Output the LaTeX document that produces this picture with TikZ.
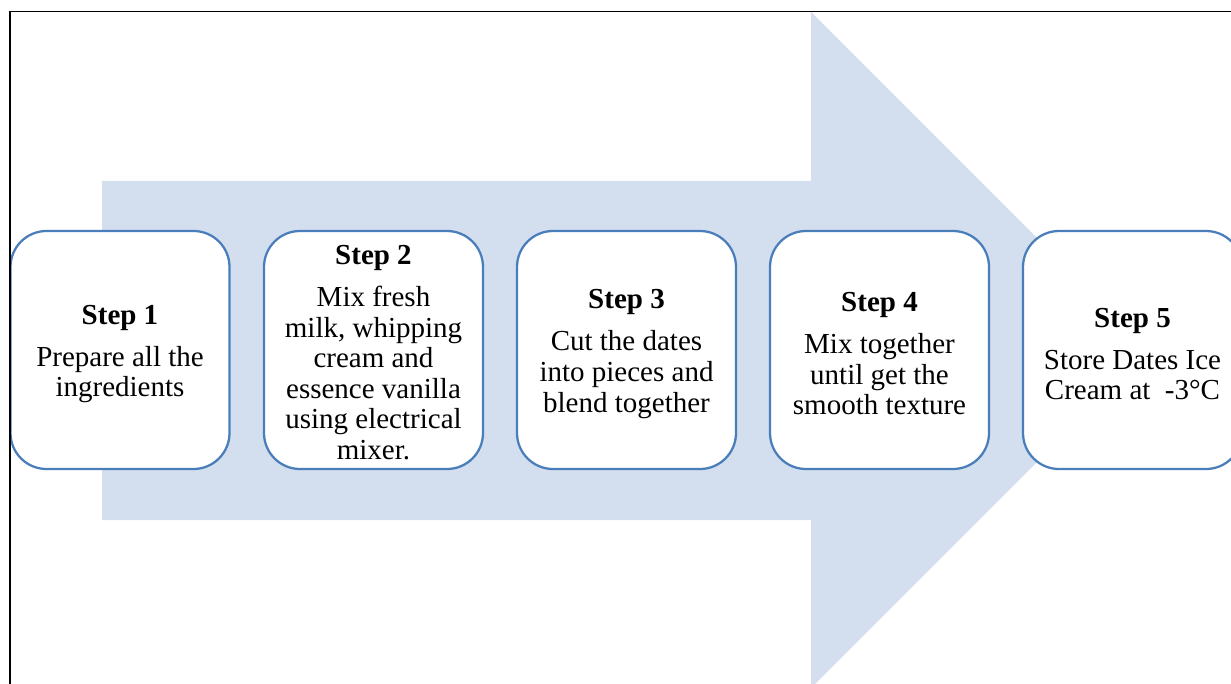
\documentclass[tikz,border=0pt]{standalone}
\usepackage{fontspec}
\setmainfont{Liberation Serif}
\definecolor{arrowfill}{RGB}{211,223,238}
\definecolor{boxline}{RGB}{74,126,187}
\tikzset{
  stepbox/.style={draw=boxline, line width=1.7pt, fill=white, rounded corners=27pt,
    minimum width=164.25pt, minimum height=178.5pt, inner sep=0pt},
  steptext/.style={align=center, inner sep=0pt, font=\fontsize{21.75}{22.9}\selectfont},
  frameline/.style={draw=black, line width=1.3pt}
}
\begin{document}
\begin{tikzpicture}[x=0.75pt,y=-0.75pt]
\useasboundingbox (0,0) rectangle (1231,684);
\clip (0,0) rectangle (1231,684);
% big arrow
\fill[arrowfill] (102,181) -- (811,181) -- (811,12) -- (1149,350) -- (811,688) -- (811,520) -- (102,520) -- cycle;
% boxes
\node[stepbox] (s1) at (120,350) {};
\node[stepbox] (s2) at (373.5,350) {};
\node[stepbox] (s3) at (626.5,350) {};
\node[stepbox] (s4) at (879.5,350) {};
\node[stepbox] (s5) at (1132.5,350) {};
% texts
\node[steptext] (t1) at ([yshift=-3pt]s1.center) {\textbf{Step 1}\\[8.6pt]Prepare all the\\ingredients};
\node[steptext] (t2) at ([yshift=-2pt]s2.center) {\textbf{Step 2}\\[8.6pt]Mix fresh\\milk, whipping\\cream and\\essence vanilla\\using electrical\\mixer.};
\node[steptext] (t3) at ([yshift=-3pt]s3.center) {\textbf{Step 3}\\[8.6pt]Cut the dates\\into pieces and\\blend together};
\node[steptext] (t4) at ([yshift=-3pt]s4.center) {\textbf{Step 4}\\[8.6pt]Mix together\\until get the\\smooth texture};
\node[steptext] (t5) at ([yshift=-3pt]s5.center) {\textbf{Step 5}\\[8.6pt]Store Dates Ice\\Cream at~~-3°C};
% frame
\draw[frameline] (10,690) -- (10,11.5) -- (1240,11.5);
\end{tikzpicture}
\end{document}
